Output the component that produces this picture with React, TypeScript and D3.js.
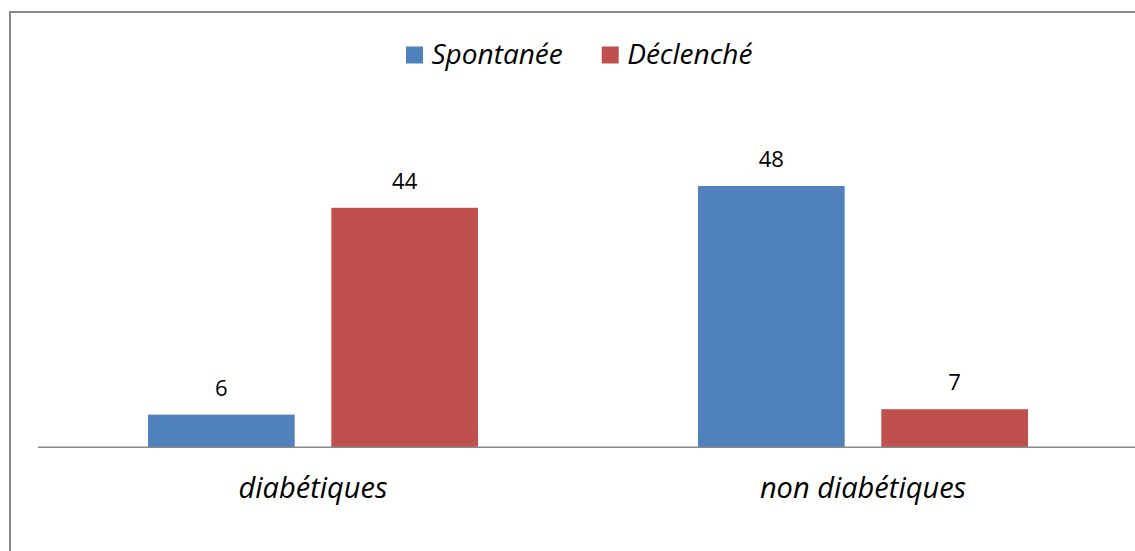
import React, { useEffect, useRef } from 'react';
import * as d3 from 'd3';

const categories = ['diabétiques', 'non diabétiques'];
const seriesNames = ['Spontanée', 'Déclenché'];
const spontanee = [6, 48];
const declenche = [44, 7];
const colors = ['#4F81BD', '#C0504D'];

const WIDTH = 1135;
const HEIGHT = 551;

export default function App() {
	const ref = useRef<SVGSVGElement>(null);

	useEffect(() => {
		const svg = d3.select(ref.current);
		svg.selectAll('*').remove();

		const font = '"Open Sans", Lato, sans-serif';

		// chart frame (right and bottom edges fall outside the picture)
		svg
			.append('rect')
			.attr('x', 10)
			.attr('y', 12)
			.attr('width', WIDTH + 20)
			.attr('height', HEIGHT + 20)
			.attr('fill', 'white')
			.attr('stroke', '#898989')
			.attr('stroke-width', 2);

		const x0 = d3.scaleBand<string>().domain(categories).range([38, 1138]);
		const x1 = d3
			.scaleBand<string>()
			.domain(seriesNames)
			.range([0, x0.bandwidth()])
			.paddingInner(0.2)
			.paddingOuter(0.6);
		const y = d3.scaleLinear().domain([0, 60]).range([447.3, 120.7]);

		const rows = categories.map((c, i) => ({
			category: c,
			values: [spontanee[i], declenche[i]],
		}));

		const groups = svg
			.selectAll('g.group')
			.data(rows)
			.enter()
			.append('g')
			.attr('class', 'group')
			.attr('transform', (d) => 'translate(' + x0(d.category) + ',0)');

		groups
			.selectAll('rect')
			.data((d) => d.values.map((v, i) => ({ name: seriesNames[i], value: v, i })))
			.enter()
			.append('rect')
			.attr('x', (d) => x1(d.name)!)
			.attr('y', (d) => y(d.value))
			.attr('width', x1.bandwidth())
			.attr('height', (d) => y(0) - y(d.value))
			.attr('fill', (d) => colors[d.i]);

		groups
			.selectAll('text')
			.data((d) => d.values.map((v, i) => ({ name: seriesNames[i], value: v })))
			.enter()
			.append('text')
			.attr('x', (d) => x1(d.name)! + x1.bandwidth() / 2)
			.attr('y', (d) => y(d.value) - 19)
			.attr('text-anchor', 'middle')
			.attr('font-family', font)
			.attr('font-size', 22)
			.attr('fill', '#000')
			.text((d) => d.value);

		// category axis
		svg
			.append('line')
			.attr('x1', 38)
			.attr('x2', 1138)
			.attr('y1', y(0))
			.attr('y2', y(0))
			.attr('stroke', '#898989')
			.attr('stroke-width', 1.5);

		svg
			.selectAll('text.cat')
			.data(categories)
			.enter()
			.append('text')
			.attr('class', 'cat')
			.attr('x', (d) => x0(d)! + x0.bandwidth() / 2)
			.attr('y', 498.3)
			.attr('text-anchor', 'middle')
			.attr('font-family', font)
			.attr('font-style', 'italic')
			.attr('font-size', 29)
			.text((d) => d);

		// legend
		const legendX = [406, 601.7];
		const legend = svg
			.selectAll('g.legend')
			.data(seriesNames)
			.enter()
			.append('g')
			.attr('class', 'legend')
			.attr('transform', (d, i) => 'translate(' + legendX[i] + ',46.5)');

		legend
			.append('rect')
			.attr('width', 17)
			.attr('height', 17)
			.attr('fill', (d, i) => colors[i]);

		legend
			.append('text')
			.attr('x', 25.5)
			.attr('y', 17)
			.attr('font-family', font)
			.attr('font-style', 'italic')
			.attr('font-size', 28)
			.text((d) => d);
	}, []);

	return (
		<svg
			ref={ref}
			width={WIDTH}
			height={HEIGHT}
			style={{ position: 'absolute', left: 0, top: 0, display: 'block' }}
		/>
	);
}
